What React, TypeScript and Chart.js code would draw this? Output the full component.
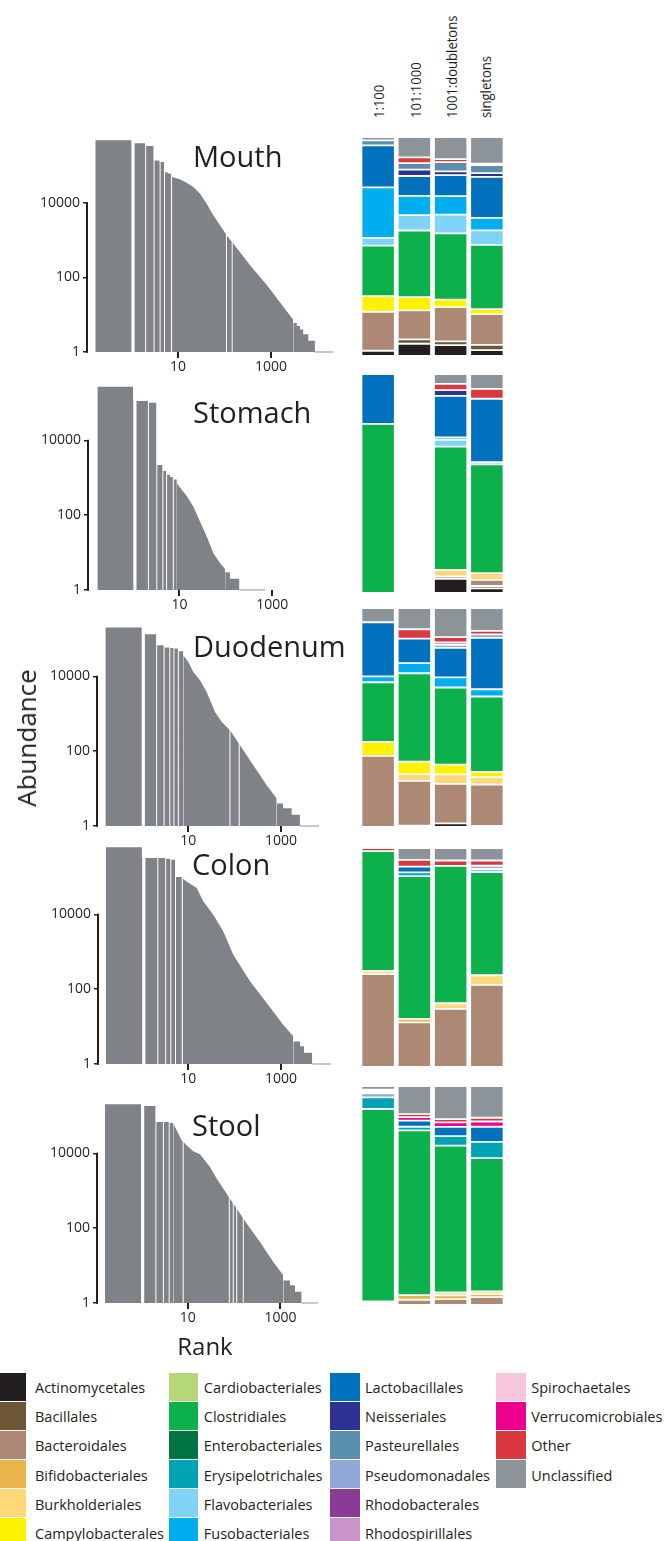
import React, { useEffect, useRef } from "react";
import { Chart, registerables } from "chart.js";
Chart.register(...registerables);

const FONT = '"Open Sans", "Noto Sans", sans-serif';
const INK = "#231f20";
const RANK_FILL = "#7f8388";
const SINGLETON_LINE = "#b3b6b9";

// ---------- categories ----------
const orders = [
  "Actinomycetales", "Bacillales", "Bacteroidales", "Bifidobacteriales", "Burkholderiales", "Campylobacterales",
  "Cardiobacteriales", "Clostridiales", "Enterobacteriales", "Erysipelotrichales", "Flavobacteriales", "Fusobacteriales",
  "Lactobacillales", "Neisseriales", "Pasteurellales", "Pseudomonadales", "Rhodobacterales", "Rhodospirillales",
  "Spirochaetales", "Verrucomicrobiales", "Other", "Unclassified",
];
const orderColors = [
  "#231f20", "#6d5636", "#ad8875", "#e9b44c", "#ffd87a", "#fff200",
  "#b5d778", "#0db14b", "#007543", "#00a3b4", "#7fd3f7", "#00aeef",
  "#0071bc", "#2e3192", "#5a8fad", "#91a8d6", "#8b3a97", "#c994c7",
  "#f7c6dc", "#ec008c", "#d9383e", "#8c9399",
];
const binLabels = ["1:100", "101:1000", "1001:doubletons", "singletons"];
const panelNames = ["Mouth", "Stomach", "Duodenum", "Colon", "Stool"];
const xTickValues = [10, 1000];
const yTickValues = [1, 100, 10000];

// ---------- rank-abundance data: [rank, abundance] ----------
// range: [xMin, xMax, yMax, last rank]
const mouthRange = [0.115, 21600, 480000, 21600];
const mouthHead = [[0.165, 470000], [1, 390000], [2, 330000], [3, 136000], [4, 123000], [5, 66000], [6, 61000], [7.2, 50000]];
const mouthBody = [[7.2, 50000], [10.9, 42300], [15.2, 34300], [21, 26800], [29.4, 17800], [40.9, 9560], [56.8, 4680], [79.2, 2520], [110, 1370], [153, 820], [351, 216], [803, 63], [1830, 16.6], [3010, 7.3]];
const mouthTail = [[3010, 6], [3600, 5], [4200, 4], [4940, 3], [6340, 2], [8830, 2]];
const mouthGaps = [1.07, 2, 3.04, 4.1, 5.1, 7.2, 110, 146];

const stomachRange = [0.113, 1200, 285000, 708];
const stomachHead = [[0.171, 273000], [1, 113000], [2.15, 102000], [3.26, 2200], [4.4, 1510], [5.3, 1200], [6.3, 1050], [7.4, 900], [8.8, 713]];
const stomachBody = [[8.8, 713], [10.4, 545], [14.4, 326], [20, 169], [27.9, 67], [38.9, 26.6], [54, 9.6], [75.3, 5.2], [96.6, 3.6]];
const stomachTail = [[96.6, 3], [122, 2], [196, 2]];
const stomachGaps = [1.1, 2.15, 3.26, 4.4, 5.3, 7.4];

const duodenumRange = [0.113, 6560, 209000, 6560];
const duodenumHead = [[0.163, 202000], [1, 134000], [2.08, 68000], [3, 59000], [4, 57500], [4.9, 55400], [6.1, 46800], [7.8, 36600]];
const duodenumBody = [[7.8, 36600], [10, 24300], [12.8, 13100], [17.9, 7870], [24.9, 3830], [37.6, 1120], [52.5, 603], [79.3, 362], [130, 144], [252, 42], [490, 12.3], [803, 5.4]];
const duodenumTail = [[803, 4], [1100, 3], [1690, 2], [2550, 2]];
const duodenumGaps = [1.07, 2.08, 3.0, 4.0, 4.9, 6.1, 79, 125];

const colonRange = [0.119, 11900, 634000, 11900];
const colonHead = [[0.168, 620000], [1, 322000], [2.2, 320000], [3.26, 308000], [4.2, 290000], [5.3, 100000], [7.4, 94000]];
const colonBody = [[7.4, 94000], [9.2, 76300], [15.2, 50800], [21, 22300], [34.6, 9820], [56.8, 3510], [93.3, 836], [214, 162], [490, 42.8], [1110, 11.2], [1830, 5.5]];
const colonTail = [[1830, 4], [2550, 3], [3110, 2], [4700, 2]];
const colonGaps = [1.1, 2.2, 3.26, 4.2, 5.3, 7.4];

const stoolRange = [0.117, 6430, 223000, 6430];
const stoolHead = [[0.165, 205000], [1, 185000], [2.07, 69000], [3, 69000], [4, 65000], [4.9, 62600]];
const stoolBody = [[4.9, 62600], [5.8, 41500], [7.4, 22400], [9.5, 16500], [13.2, 11400], [18.4, 9460], [30.3, 4330], [42.2, 2120], [69.2, 841], [96, 455], [187, 133], [362, 42.8], [700, 12.5], [1150, 5.5]];
const stoolTail = [[1150, 4], [1600, 3], [2050, 2], [2860, 2]];
const stoolGaps = [1.07, 2.07, 3.0, 4.0, 8.0, 79, 96, 114, 158];

// ---------- composition (% per bin: 1:100, 101:1000, 1001:doubletons, singletons) ----------
const mouthBins: Record<string, number[]> = {
  Actinomycetales: [2.4, 5.6, 5.0, 2.7],
  Bacillales: [0, 2.0, 1.7, 2.4],
  Bacteroidales: [17.8, 13.2, 15.6, 14.0],
  Campylobacterales: [7.1, 6.1, 3.4, 2.3],
  Clostridiales: [23.1, 30.4, 30.3, 29.3],
  Flavobacteriales: [3.5, 7.0, 8.6, 6.7],
  Fusobacteriales: [23.1, 8.8, 8.4, 5.7],
  Lactobacillales: [19.2, 9.1, 9.6, 18.7],
  Neisseriales: [0, 2.9, 1.7, 1.7],
  Pasteurellales: [2.3, 3.0, 4.2, 3.7],
  Other: [0, 2.6, 1.4, 0.6],
  Unclassified: [1.5, 9.3, 10.1, 12.2],
};
const stomachBins: Record<string, number[]> = {
  Actinomycetales: [0, 0, 6.5, 2.1],
  Bacillales: [0, 0, 0, 1.1],
  Bacteroidales: [0, 0, 1.1, 2.8],
  Burkholderiales: [0, 0, 3.0, 3.1],
  Clostridiales: [77.2, 0, 56.2, 49.6],
  Flavobacteriales: [0, 0, 3.1, 1.1],
  Fusobacteriales: [0, 0, 1.1, 0],
  Lactobacillales: [22.8, 0, 19.0, 28.9],
  Neisseriales: [0, 0, 2.6, 0],
  Other: [0, 0, 2.9, 4.5],
  Unclassified: [0, 0, 4.5, 6.8],
};
const duodenumBins: Record<string, number[]> = {
  Actinomycetales: [0, 0.6, 1.7, 0.5],
  Bacteroidales: [32.5, 20.5, 18.0, 18.9],
  Burkholderiales: [0, 3.0, 4.3, 3.4],
  Campylobacterales: [6.4, 5.7, 4.5, 2.4],
  Clostridiales: [27.2, 40.4, 35.2, 34.4],
  Fusobacteriales: [2.7, 4.6, 4.6, 3.3],
  Lactobacillales: [24.7, 11.2, 13.5, 23.5],
  Pseudomonadales: [0, 0, 1.4, 1.6],
  Rhodospirillales: [0, 0, 1.1, 0],
  Other: [0, 4.3, 2.4, 1.6],
  Unclassified: [6.5, 9.7, 13.3, 10.4],
};
const colonBins: Record<string, number[]> = {
  Bacteroidales: [42.4, 20.4, 26.5, 37.5],
  Bifidobacteriales: [0, 1.6, 0, 0],
  Burkholderiales: [1.5, 0, 2.6, 4.4],
  Clostridiales: [54.7, 65.2, 62.7, 47.1],
  Erysipelotrichales: [0, 1.7, 0, 0],
  Flavobacteriales: [0, 0, 0, 1.4],
  Lactobacillales: [0, 2.6, 0, 0],
  Pseudomonadales: [0, 0, 0, 1.5],
  Other: [1.4, 3.1, 2.5, 2.4],
  Unclassified: [0, 5.4, 5.7, 5.7],
};
const stoolBins: Record<string, number[]> = {
  Bacteroidales: [0.8, 2.4, 2.7, 3.6],
  Bifidobacteriales: [0, 2.1, 1.7, 1.4],
  Burkholderiales: [0.8, 0, 1.4, 1.2],
  Clostridiales: [87.9, 75.2, 67.0, 60.9],
  Erysipelotrichales: [5.3, 1.7, 4.3, 7.4],
  Lactobacillales: [0, 2.8, 4.2, 6.9],
  Pseudomonadales: [1.9, 0, 0, 0],
  Spirochaetales: [0.9, 0, 0, 0],
  Verrucomicrobiales: [0, 1.6, 2.1, 2.4],
  Other: [0.7, 1.4, 1.5, 1.7],
  Unclassified: [1.7, 12.8, 15.1, 14.5],
};

const panels = [
  { range: mouthRange, head: mouthHead, body: mouthBody, tail: mouthTail, gaps: mouthGaps, bins: mouthBins },
  { range: stomachRange, head: stomachHead, body: stomachBody, tail: stomachTail, gaps: stomachGaps, bins: stomachBins },
  { range: duodenumRange, head: duodenumHead, body: duodenumBody, tail: duodenumTail, gaps: duodenumGaps, bins: duodenumBins },
  { range: colonRange, head: colonHead, body: colonBody, tail: colonTail, gaps: colonGaps, bins: colonBins },
  { range: stoolRange, head: stoolHead, body: stoolBody, tail: stoolTail, gaps: stoolGaps, bins: stoolBins },
];

// ---------- layout (page pixels) ----------
const rankBoxes = [
  { l: 88, t: 140, w: 245, h: 212 },
  { l: 89, t: 386, w: 187, h: 204 },
  { l: 98, t: 627, w: 221, h: 199 },
  { l: 99, t: 847, w: 232, h: 217 },
  { l: 98, t: 1103, w: 220, h: 200 },
];
const binTops = [137, 374, 608, 847.5, 1086];
const BIN_LEFT = 360, BIN_W = 145, BIN_H = 219;
const titlePos = [
  { x: 193, y: 166.7 }, { x: 193, y: 423 }, { x: 193, y: 656.7 }, { x: 192, y: 875 }, { x: 192, y: 1136 },
];
const XAXIS_H = 26, PAD_R = 24;

function RankChart({ idx }: { idx: number }) {
  const ref = useRef<HTMLCanvasElement>(null);
  const box = rankBoxes[idx];
  useEffect(() => {
    const p = panels[idx];
    const [xMin, xMax, yMax, lastRank] = p.range;
    const pts = (a: number[][]) => a.map(([x, y]) => ({ x, y }));
    const endRank = p.tail[p.tail.length - 1][0];
    const area = { fill: "start", backgroundColor: RANK_FILL, borderColor: "rgba(0,0,0,0)", borderWidth: 0, pointRadius: 0 };
    const decor = {
      id: "rankDecor",
      afterDatasetsDraw(chart: any) {
        const { ctx, chartArea, scales } = chart;
        const xs = scales.x, ys = scales.y;
        ctx.save();
        ctx.strokeStyle = "#ffffff";
        p.gaps.forEach((g: number, i: number) => {
          const px = xs.getPixelForValue(g);
          ctx.lineWidth = i === 0 ? 3.2 : 1;
          ctx.beginPath();
          ctx.moveTo(px, chartArea.top);
          ctx.lineTo(px, chartArea.bottom);
          ctx.stroke();
        });
        ctx.strokeStyle = INK;
        ctx.lineWidth = 2;
        const ax = chartArea.left - 1;
        ctx.beginPath();
        ctx.moveTo(ax, ys.getPixelForValue(yTickValues[0]) + 0.75);
        ctx.lineTo(ax, ys.getPixelForValue(yTickValues[yTickValues.length - 1]) - 0.75);
        ctx.stroke();
        ctx.restore();
      },
    };
    const chart = new Chart(ref.current as HTMLCanvasElement, {
      type: "line",
      data: {
        datasets: [
          { ...area, data: pts(p.head), stepped: true },
          { ...area, data: pts(p.body), tension: 0 },
          { ...area, data: pts(p.tail), stepped: true },
          { data: [{ x: endRank, y: 1 }, { x: lastRank, y: 1 }], fill: false, borderColor: SINGLETON_LINE, borderWidth: 1.5, pointRadius: 0, clip: 4 },
        ] as any,
      },
      options: {
        responsive: false,
        animation: false,
        devicePixelRatio: 1,
        layout: { padding: { left: 0, right: PAD_R, top: 0, bottom: 0 } },
        plugins: { legend: { display: false }, tooltip: { enabled: false } },
        scales: {
          x: {
            type: "logarithmic", min: xMin, max: xMax,
            border: { display: false },
            grid: { drawOnChartArea: false, drawTicks: true, tickLength: 6, lineWidth: 2, color: INK },
            ticks: { color: INK, font: { family: FONT, size: 14 }, padding: 1, maxRotation: 0, autoSkip: false, callback: (v: any) => String(v) },
            afterBuildTicks: (s: any) => { s.ticks = xTickValues.map((value) => ({ value })); },
            afterFit: (s: any) => { s.height = XAXIS_H; s.paddingLeft = 0; s.paddingRight = 0; },
          },
          y: {
            type: "logarithmic", min: 1, max: yMax,
            border: { display: false },
            grid: { drawOnChartArea: false, drawTicks: true, tickLength: 5, lineWidth: 1.5, color: INK },
            ticks: { color: INK, font: { family: FONT, size: 14 }, padding: 3, autoSkip: false, callback: (v: any) => String(v) },
            afterBuildTicks: (s: any) => { s.ticks = yTickValues.map((value) => ({ value })); },
            afterFit: (s: any) => { s.width = box.l; s.paddingTop = 0; s.paddingBottom = 0; },
          },
        },
      } as any,
      plugins: [decor],
    });
    return () => chart.destroy();
  }, []);
  return (
    <canvas ref={ref} width={box.l + box.w + PAD_R} height={box.h + XAXIS_H}
      style={{ position: "absolute", left: 0, top: box.t }} />
  );
}

function BinChart({ idx }: { idx: number }) {
  const ref = useRef<HTMLCanvasElement>(null);
  useEffect(() => {
    const bins = panels[idx].bins;
    const chart = new Chart(ref.current as HTMLCanvasElement, {
      type: "bar",
      data: {
        labels: binLabels,
        datasets: orders.map((o, i) => ({
          label: o,
          data: (bins[o] || [0, 0, 0, 0]).map((v) => (v ? v : null)),
          backgroundColor: orderColors[i],
          borderColor: "#ffffff",
          borderWidth: 0.9,
          borderSkipped: false,
          barPercentage: 0.92,
          categoryPercentage: 1,
        })),
      },
      options: {
        responsive: false,
        animation: false,
        devicePixelRatio: 1,
        layout: { padding: 0 },
        plugins: { legend: { display: false }, tooltip: { enabled: false } },
        scales: {
          x: { stacked: true, display: false },
          y: { stacked: true, display: false, min: 0, max: 100 },
        },
      } as any,
    });
    return () => chart.destroy();
  }, []);
  return (
    <canvas ref={ref} width={BIN_W} height={BIN_H}
      style={{ position: "absolute", left: BIN_LEFT, top: binTops[idx] }} />
  );
}

const BASE = 0.888; // Open Sans baseline position for line-height 1

function Text({ x, y, size, children, style }: any) {
  return (
    <div style={{ position: "absolute", left: x, top: y - BASE * size, fontSize: size, lineHeight: 1, whiteSpace: "nowrap", color: INK, ...style }}>
      {children}
    </div>
  );
}

const headerLefts = [372, 409, 445, 479];
const legendColLefts = [0, 168.8, 330, 496.2];
const legendSwatchW = [26.3, 29.7, 29.7, 29.7];
const LEGEND_TEXT_DX = 35;
const LEGEND_TOP = 1372.7, LEGEND_ROW = 29.1;

export default function App() {
  return (
    <div style={{ position: "absolute", left: 0, top: 0, width: 665, height: 1541, background: "#fff", fontFamily: FONT, overflow: "hidden" }}>
      {panelNames.map((n, i) => <RankChart key={"r" + n} idx={i} />)}
      {panelNames.map((n, i) => <BinChart key={"b" + n} idx={i} />)}
      {panelNames.map((n, i) => (
        <Text key={"t" + n} x={titlePos[i].x} y={titlePos[i].y} size={29}>{n}</Text>
      ))}
      {binLabels.map((b, i) => (
        <div key={b} style={{ position: "absolute", left: headerLefts[i], top: 118, fontSize: 14.5, lineHeight: 1, whiteSpace: "nowrap", color: INK, transformOrigin: "0 0", transform: "rotate(-90deg) scaleX(0.9)" }}>{b}</div>
      ))}
      <div style={{ position: "absolute", left: 26, top: 738, fontSize: 26, lineHeight: 1, whiteSpace: "nowrap", color: INK, transform: "translate(-50%, -50%) rotate(-90deg)" }}>Abundance</div>
      <div style={{ position: "absolute", left: 155, width: 100, textAlign: "center", top: 1355 - BASE * 24, fontSize: 24, lineHeight: 1, color: INK }}>Rank</div>
      {orders.map((o, i) => {
        const col = Math.floor(i / 6), row = i % 6;
        const top = LEGEND_TOP + row * LEGEND_ROW;
        return (
          <React.Fragment key={o}>
            <div style={{ position: "absolute", left: legendColLefts[col], top, width: legendSwatchW[col], height: 28, background: orderColors[i] }} />
            <div style={{ position: "absolute", left: legendColLefts[col] + LEGEND_TEXT_DX, top: top + 1.5, height: 28, lineHeight: "28px", fontSize: 14.5, whiteSpace: "nowrap", color: INK }}>{o}</div>
          </React.Fragment>
        );
      })}
    </div>
  );
}
